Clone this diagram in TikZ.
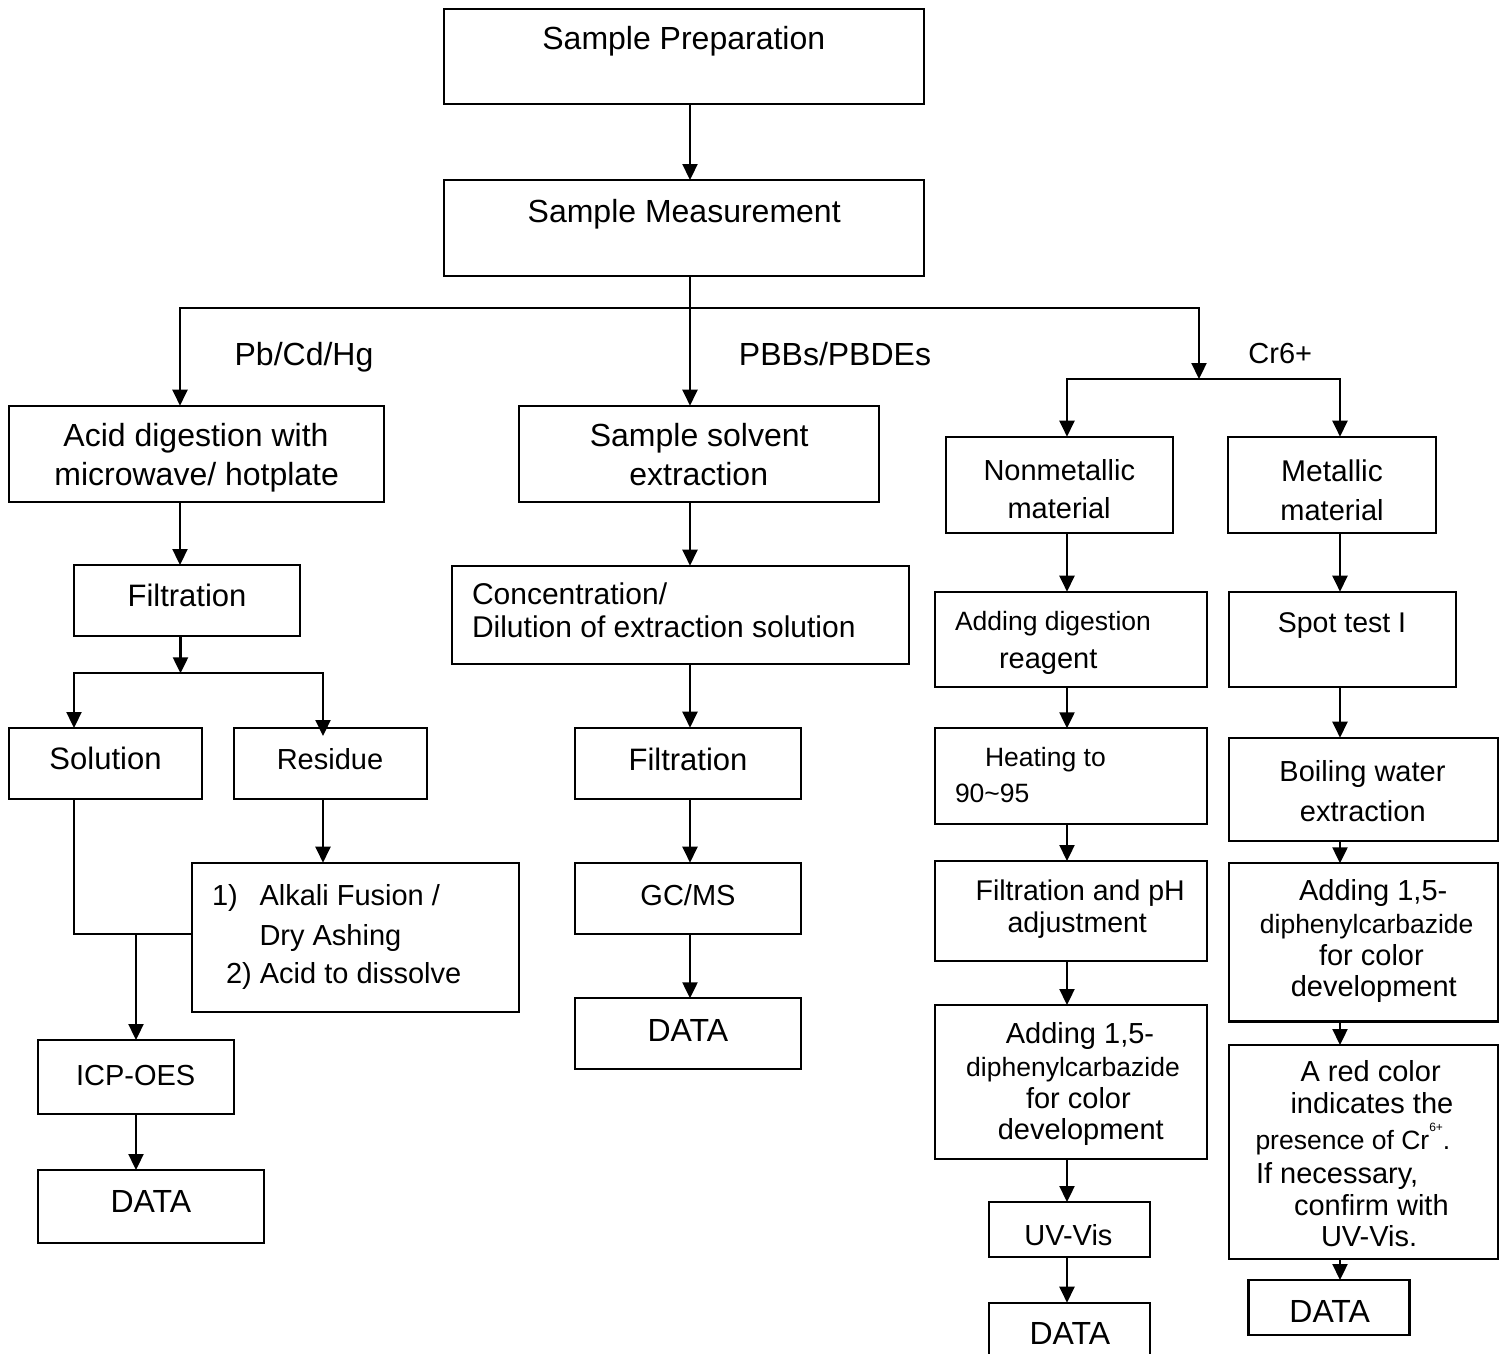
\documentclass[tikz,border=0pt]{standalone}
\usepackage{fontspec}
\setmainfont{Liberation Sans}
\usetikzlibrary{arrows.meta}
\tikzset{
  box/.style={draw, line width=2.3pt, inner sep=0pt, outer sep=0pt},
  arr/.style={line width=2.3pt, -{Triangle[width=15pt,length=16pt]}},
  ln/.style={line width=2.3pt, line cap=rect},
  txt/.style={inner sep=0pt, outer sep=0pt}
}
% box from corners (x1,y1) to (x2,y2), y downward
\newcommand\Bx[5]{\node[box, minimum width={(#4-#2)*1pt}, minimum height={(#5-#3)*1pt}] (#1) at ({(#2+#4)/2},{(#3+#5)/2}) {};}
% centred text line, baseline at y
\newcommand\TxC[5]{\node[txt, anchor=base, font=\fontsize{#4}{#4}\selectfont] (#1) at (#2,#3) {#5};}
% left-aligned text line, baseline at y
\newcommand\TxL[5]{\node[txt, anchor=base west, font=\fontsize{#4}{#4}\selectfont] (#1) at (#2,#3) {#5};}
\begin{document}
\begin{tikzpicture}[x=1pt,y=-1pt]
\useasboundingbox (0,0) rectangle (1500,1354);
\fill[white] (0,0) rectangle (1500,1354);
% ---------- boxes ----------
\Bx{prep}{444}{9}{924}{104}
\Bx{meas}{444}{180}{924}{276}
\Bx{acid}{9}{405.7}{384}{501.7}
\Bx{solv}{519}{405.7}{879}{501.7}
\Bx{nonmet}{946}{436.7}{1172.7}{533.3}
\Bx{met}{1228}{436.7}{1436}{533.3}
\Bx{filt1}{74}{565}{300}{636}
\Bx{conc}{452.3}{565.7}{909}{664}
\Bx{adddig}{934.7}{591.7}{1207.3}{686.7}
\Bx{spot}{1228.7}{591.7}{1456}{686.7}
\Bx{sol}{9}{728}{202}{798.7}
\Bx{res}{234}{728}{427}{798.7}
\Bx{filt2}{575}{727.7}{800.7}{798.7}
\Bx{heat}{934.7}{728.3}{1207.3}{824}
\Bx{boil}{1228.9}{737.7}{1498}{840.7}
\Bx{alk}{191.7}{862.7}{519}{1012.3}
\Bx{gcms}{575}{862.7}{800.7}{934.3}
\Bx{filtph}{934.7}{861}{1207.3}{960.7}
\Bx{adddpcB}{1228.9}{863.3}{1498}{1021.5}
\Bx{dataB}{575}{998.3}{800.7}{1069}
\Bx{adddpcA}{934.7}{1005}{1207.3}{1159}
\Bx{icp}{37.7}{1040}{234.3}{1114}
\Bx{red}{1228.9}{1045}{1498}{1259}
\Bx{dataA}{37.7}{1170}{263.7}{1243}
\Bx{uv}{988.8}{1202}{1149.7}{1257}
\Bx{dataD}{1248.5}{1280}{1409.5}{1335}
\Bx{dataC}{988.8}{1302.7}{1149.7}{1372}
% ---------- junction points ----------
\coordinate (jL) at (180,308.3);
\coordinate (jB) at (690,308.3);
\coordinate (jR) at (1199,308.3);
\coordinate (crJ) at (1199,379);
\coordinate (crL) at (1067,379);
\coordinate (crR) at (1340,379);
\coordinate (fJ) at (180.5,673.3);
\coordinate (fL) at (74,673.3);
\coordinate (fR) at (323,673.3);
\coordinate (rT) at (323,736);
\coordinate (sJ) at (74,934.3);
\coordinate (iJ) at (136,934.3);
% ---------- connectors ----------
\draw[arr] (prep.south -| jB) -- (meas.north -| jB);
\draw[ln] (meas.south -| jB) -- (jB);
\draw[ln] (jL) -- (jR);
\draw[arr] (jL) -- (acid.north -| jL);
\draw[arr] (jB) -- (solv.north -| jB);
\draw[arr] (jR) -- (crJ);
\draw[ln] (crL) -- (crR);
\draw[arr] (crL) -- (nonmet.north -| crL);
\draw[arr] (crR) -- (met.north -| crR);
% left branch
\draw[arr] (acid.south -| jL) -- (filt1.north -| jL);
\draw[arr] (filt1.south -| fJ) -- (fJ);
\draw[ln] (fL) -- (fR);
\draw[arr] (fL) -- (sol.north -| fL);
\draw[arr] (fR) -- (rT);
\draw[ln] (sol.south -| sJ) -- (sJ) -- (sJ -| alk.west);
\draw[arr] (iJ) -- (icp.north -| iJ);
\draw[arr] (res.south -| fR) -- (alk.north -| fR);
\draw[arr] (icp.south -| iJ) -- (dataA.north -| iJ);
% middle branch
\draw[arr] (solv.south -| jB) -- (conc.north -| jB);
\draw[arr] (conc.south -| jB) -- (filt2.north -| jB);
\draw[arr] (filt2.south -| jB) -- (gcms.north -| jB);
\draw[arr] (gcms.south -| jB) -- (dataB.north -| jB);
% nonmetallic branch
\draw[arr] (nonmet.south -| crL) -- (adddig.north -| crL);
\draw[arr] (adddig.south -| crL) -- (heat.north -| crL);
\draw[arr] (heat.south -| crL) -- (filtph.north -| crL);
\draw[arr] (filtph.south -| crL) -- (adddpcA.north -| crL);
\draw[arr] (adddpcA.south -| crL) -- (uv.north -| crL);
\draw[arr] (uv.south -| crL) -- (dataC.north -| crL);
% metallic branch
\draw[arr] (met.south -| crR) -- (spot.north -| crR);
\draw[arr] (spot.south -| crR) -- (boil.north -| crR);
\draw[arr] (boil.south -| crR) -- (adddpcB.north -| crR);
\draw[arr] (adddpcB.south -| crR) -- (red.north -| crR);
\draw[arr] (red.south -| crR) -- (dataD.north -| crR);
% ---------- texts ----------
\TxC{t-prep}{683.8}{50}{32}{Sample Preparation}
\TxC{t-meas}{684.2}{222.7}{32}{Sample Measurement}
\TxC{t-pb}{304}{365}{32}{Pb/Cd/Hg}
\TxC{t-pbb}{835}{365}{32}{PBBs/PBDEs}
\TxC{t-cr}{1280.3}{363.3}{29}{Cr6+}
\TxC{t-acidA}{196}{446.7}{32}{Acid digestion with}
\TxC{t-acidB}{196.7}{485}{32}{microwave/ hotplate}
\TxC{t-solvA}{699.2}{446.7}{32}{Sample solvent}
\TxC{t-solvB}{698.7}{485}{32}{extraction}
\TxC{t-nmA}{1059.3}{480}{29}{Nonmetallic}
\TxC{t-nmB}{1059.1}{518.3}{29}{material}
\TxC{t-mA}{1332}{481.7}{30}{Metallic}
\TxC{t-mB}{1332}{520.7}{29}{material}
\TxC{t-fA}{187}{606.7}{31}{Filtration}
\TxL{t-concA}{472}{604}{30}{Concentration/}
\TxL{t-concB}{472}{637.3}{30}{Dilution of extraction solution}
\TxL{t-digA}{955}{630}{26.5}{Adding digestion}
\TxL{t-digB}{999}{668.3}{29}{reagent}
\TxC{t-spot}{1342}{632.7}{28.5}{Spot test I}
\TxC{t-sol}{105.5}{769.3}{31}{Solution}
\TxC{t-res}{330}{769.3}{29}{Residue}
\TxC{t-fB}{688}{770}{31}{Filtration}
\TxL{t-heatA}{985}{766.7}{26.5}{Heating to}
\TxL{t-heatB}{955}{802.7}{26.5}{90\textasciitilde{}95}
\TxC{t-boilA}{1362.5}{781.7}{29}{Boiling water}
\TxC{t-boilB}{1362.8}{821}{29}{extraction}
\TxL{t-alkA}{212}{905.7}{29}{1)}
\TxL{t-alkAb}{259.5}{905.7}{29}{Alkali Fusion /}
\TxL{t-alkB}{259.5}{945}{29}{Dry Ashing}
\TxL{t-alkC}{226}{983.3}{29}{2) Acid to dissolve}
\TxC{t-gc}{688}{905.7}{29}{GC/MS}
\TxC{t-fphA}{1080.2}{900}{28.5}{Filtration and pH}
\TxC{t-fphB}{1077.2}{932.3}{28.5}{adjustment}
\TxC{t-dBa}{1373.2}{900.7}{29}{Adding 1,5-}
\TxC{t-dBb}{1366.7}{933.5}{26.5}{diphenylcarbazide}
\TxC{t-dBc}{1371.4}{965.5}{29}{for color}
\TxC{t-dBd}{1373.8}{996.7}{29}{development}
\TxC{t-dataB}{687.9}{1041}{32}{DATA}
\TxC{t-dAa}{1080}{1043.3}{29}{Adding 1,5-}
\TxC{t-dAb}{1073}{1076}{26.5}{diphenylcarbazide}
\TxC{t-dAc}{1078.4}{1108.3}{29}{for color}
\TxC{t-dAd}{1080.8}{1139.3}{29}{development}
\TxC{t-icp}{135.7}{1085}{29}{ICP-OES}
\TxL{t-rA}{1300.5}{1081.7}{29}{A red color}
\TxL{t-rB}{1290.5}{1113.3}{29}{indicates the}
\TxL{t-rC}{1255.5}{1149.3}{26.5}{presence of Cr\raisebox{18pt}{\fontsize{12}{12}\selectfont 6+}.}
\TxL{t-rD}{1256}{1183.3}{29}{If necessary,}
\TxL{t-rE}{1294}{1215}{29}{confirm with}
\TxL{t-rF}{1321}{1246.7}{29}{UV-Vis.}
\TxC{t-dataA}{150.8}{1212}{32}{DATA}
\TxC{t-uv}{1068.4}{1245.5}{29}{UV-Vis}
\TxC{t-dataD}{1329.7}{1322.7}{32}{DATA}
\TxC{t-dataC}{1069.8}{1344}{32}{DATA}
\end{tikzpicture}
\end{document}
